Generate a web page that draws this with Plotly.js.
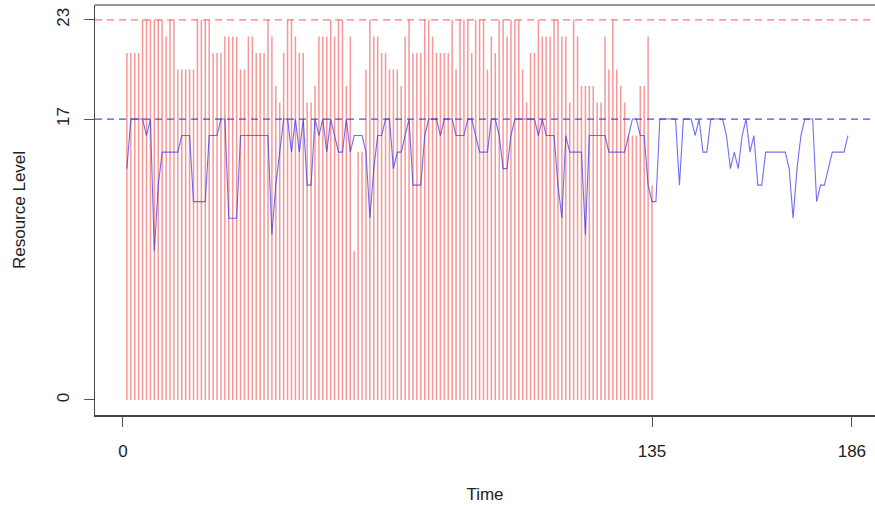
<!DOCTYPE html>
<html><head><meta charset="utf-8">
<script src="https://cdn.plot.ly/plotly-3.0.1.min.js"></script>
<style>html,body{margin:0;padding:0;background:#fff}#chart{width:875px;height:508px}</style>
</head><body><div id="chart"></div>
<script>
// Red "h"-type spikes, time 1..135
const redValues = [21,21,21,21,23,23,23,23,23,23,22,23,23,20,20,
  20,20,20,23,23,23,23,21,21,21,22,22,22,22,20,20,22,
  22,21,21,21,23,22,19,18,21,23,23,22,21,21,18,18,19,22,
  22,22,23,22,23,23,19,22,9,15,15,20,23,22,22,21,21,
  20,20,20,19,22,23,21,21,21,23,23,22,21,21,21,21,23,20,
  23,23,23,21,23,23,23,20,22,21,23,23,22,23,23,23,
  20,18,21,21,23,22,22,22,23,23,22,22,18,23,22,19,19,19,
  19,18,18,22,20,23,20,19,18,16,16,16,19,19,22,13];
// Blue resource level line, time 1..186
const blueValues = [14,17,17,17,17,16,17,9,13,15,15,15,15,15,16,
  16,16,12,12,12,12,16,16,16,17,17,11,11,11,16,16,16,
  16,16,16,16,16,10,13,15,17,17,15,17,15,17,13,13,17,16,
  17,15,17,16,15,15,17,15,16,16,16,15,11,14,16,16,17,
  17,14,15,15,16,17,13,13,13,16,17,17,17,16,17,17,17,16,
  16,16,17,17,16,15,15,15,17,17,16,14,14,16,17,17,17,
  17,17,17,16,17,16,16,16,13,11,16,15,15,15,15,10,16,
  16,16,16,16,15,15,15,15,15,16,17,17,16,16,13,12,
  12,17,17,17,17,17,13,17,17,17,16,17,15,15,17,17,17,17,16,14,15,14,16,17,
  15,16,13,13,15,15,15,15,15,15,14,11,14,16,17,17,17,12,13,13,14,15,15,15,15,16];
const xTicks = [0, 135, 186];
const yTicks = [0, 17, 23];
const redLimit = 23;
const blueLimit = 17;

const redX = [], redY = [];
redValues.forEach((v, i) => { redX.push(i + 1, i + 1, null); redY.push(0, v, null); });
const blueX = blueValues.map((v, i) => i + 1);

const traces = [
  {type:'scatter', mode:'lines', x:redX, y:redY, line:{color:'rgba(240,50,50,0.5)', width:1.5}, hoverinfo:'skip', showlegend:false, connectgaps:false},
  {type:'scatter', mode:'lines', x:blueX, y:blueValues, line:{color:'rgba(50,50,235,0.7)', width:1.1}, showlegend:false}
];
const font = {family:'"Liberation Sans", Arial, sans-serif', size:17, color:'#222'};
const layout = {
  width:875, height:508,
  margin:{l:95, r:0, t:5, b:93},
  paper_bgcolor:'#fff', plot_bgcolor:'#fff',
  showlegend:false,
  font:font,
  xaxis:{range:[-7.14, 191.9], tickvals:xTicks, ticktext:xTicks.map(String), ticks:'outside', ticklen:10, tickcolor:'#555', tickwidth:1,
    ticklabelstandoff:10,
    showgrid:false, zeroline:false, showline:true, linecolor:'#444', linewidth:1.5,
    tickfont:font, title:{text:'Time', font:font, standoff:28}},
  yaxis:{range:[-0.91, 23.9], tickvals:yTicks, ticktext:yTicks.map(String), ticks:'outside', ticklen:10, tickcolor:'#555', tickwidth:1, tickangle:-90,
    ticklabelstandoff:8,
    showgrid:false, zeroline:false, showline:true, linecolor:'#444', linewidth:1.5,
    tickfont:font, title:{text:'Resource Level', font:font, standoff:24}},
  shapes:[
    {type:'line', xref:'paper', yref:'y', x0:0, x1:1, y0:redLimit, y1:redLimit, line:{color:'rgba(240,70,70,0.7)', width:1.2, dash:'7px,5px'}},
    {type:'line', xref:'paper', yref:'y', x0:0, x1:1, y0:blueLimit, y1:blueLimit, line:{color:'rgba(50,50,220,0.85)', width:1.2, dash:'7px,5px'}},
    {type:'line', xref:'paper', yref:'paper', x0:0, x1:1, y0:1, y1:1, line:{color:'#777', width:1.5}}
  ]
};
Plotly.newPlot('chart', traces, layout, {staticPlot:true, displayModeBar:false});
</script></body></html>
